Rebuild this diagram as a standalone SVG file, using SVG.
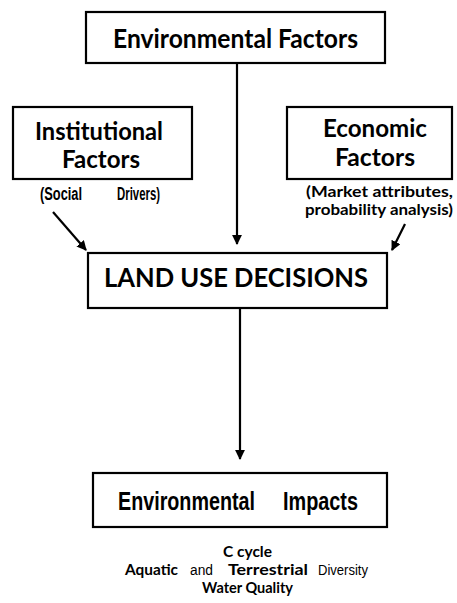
<svg xmlns="http://www.w3.org/2000/svg" width="457" height="603" viewBox="0 0 457 603">
<style>
.box{fill:#fff;stroke:#000;stroke-width:2.2}
.g{font-family:Lato,"Open Sans","DejaVu Sans",sans-serif;font-weight:bold;fill:#000}
.a{font-family:"Liberation Sans",Arial,sans-serif;font-weight:bold;fill:#000}
.c{stroke:#000;stroke-width:2.2;fill:none}
</style>
<defs>
<marker id="ah" viewBox="0 0 10 10" refX="9" refY="5" markerWidth="4.5" markerHeight="4.5" orient="auto" markerUnits="strokeWidth">
<path d="M0,0 L10,5 L0,10 z" fill="#000"/>
</marker>
</defs>
<g id="connectors">
<line class="c" x1="237" y1="63" x2="237" y2="244" marker-end="url(#ah)"/>
<line class="c" x1="53" y1="212" x2="86" y2="250" marker-end="url(#ah)"/>
<line class="c" x1="405" y1="224" x2="392" y2="250" marker-end="url(#ah)"/>
<line class="c" x1="240" y1="309" x2="240" y2="459" marker-end="url(#ah)"/>
</g>
<g id="env-factors">
<rect class="box" x="86" y="12" width="299" height="51"/>
<text class="g" x="113" y="48" font-size="27" textLength="245" lengthAdjust="spacingAndGlyphs">Environmental Factors</text>
</g>
<g id="institutional">
<rect class="box" x="13" y="107" width="179" height="72"/>
<text class="g" x="35" y="140" font-size="25" textLength="128" lengthAdjust="spacingAndGlyphs">Institutional</text>
<text class="g" x="62" y="168" font-size="25" textLength="78" lengthAdjust="spacingAndGlyphs">Factors</text>
<text class="a" x="40" y="200" font-size="18" textLength="42" lengthAdjust="spacingAndGlyphs">(Social</text>
<text class="a" x="117" y="200" font-size="18" textLength="43" lengthAdjust="spacingAndGlyphs">Drivers)</text>
</g>
<g id="economic">
<rect class="box" x="287" y="107" width="165" height="72"/>
<text class="g" x="323" y="137" font-size="25" textLength="104" lengthAdjust="spacingAndGlyphs">Economic</text>
<text class="g" x="335" y="166" font-size="25" textLength="80" lengthAdjust="spacingAndGlyphs">Factors</text>
<text class="g" x="306" y="197" font-size="15" textLength="147" lengthAdjust="spacingAndGlyphs">(Market attributes,</text>
<text class="g" x="305" y="215" font-size="15" textLength="148" lengthAdjust="spacingAndGlyphs">probability analysis)</text>
</g>
<g id="land-use">
<rect class="box" x="88" y="253" width="299" height="55"/>
<text class="g" x="104" y="287" font-size="26" textLength="264" lengthAdjust="spacingAndGlyphs">LAND USE DECISIONS</text>
</g>
<g id="impacts">
<rect class="box" x="93" y="473" width="294" height="54"/>
<text class="a" x="118" y="510" font-size="25" textLength="137" lengthAdjust="spacingAndGlyphs" style="font-weight:600">Environmental</text>
<text class="a" x="283" y="510" font-size="25" textLength="75" lengthAdjust="spacingAndGlyphs" style="font-weight:600">Impacts</text>
</g>
<g id="impact-list">
<text class="g" x="223" y="557" font-size="16" textLength="49" lengthAdjust="spacingAndGlyphs">C cycle</text>
<text class="g" x="125" y="575" font-size="16" textLength="53" lengthAdjust="spacingAndGlyphs">Aquatic</text>
<text class="a" x="190" y="575" font-size="14" textLength="23" lengthAdjust="spacingAndGlyphs" style="font-weight:normal">and</text>
<text class="g" x="228" y="575" font-size="16" textLength="80" lengthAdjust="spacingAndGlyphs">Terrestrial</text>
<text class="a" x="318" y="575" font-size="14" textLength="50" lengthAdjust="spacingAndGlyphs" style="font-weight:normal">Diversity</text>
<text class="g" x="202" y="593" font-size="16" textLength="91" lengthAdjust="spacingAndGlyphs">Water Quality</text>
</g>
</svg>
